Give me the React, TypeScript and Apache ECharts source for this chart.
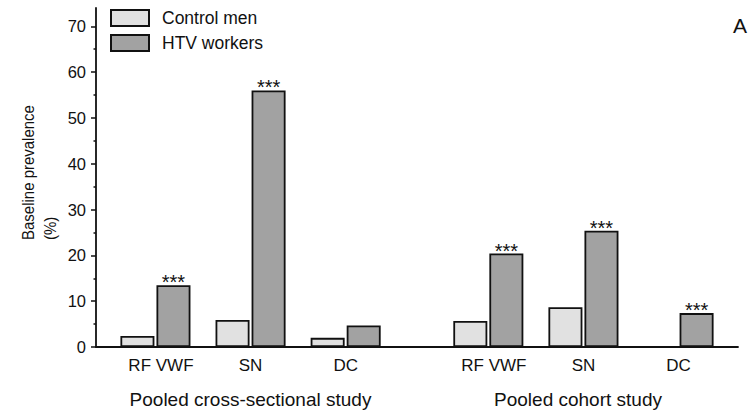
import React, { useEffect, useRef } from 'react';
import * as echarts from 'echarts';

const categories = ['RF VWF', 'SN', 'DC', 'RF VWF', 'SN', 'DC'];
const controlMen: (number | null)[] = [2.4, 5.9, 2.0, 5.7, 8.7, null];
const htvWorkers: number[] = [13.5, 56.0, 4.7, 20.4, 25.4, 7.4];
const significance = ['***', '***', '', '***', '***', '***'];
const seriesNames = ['Control men', 'HTV workers'];
const yTicks = [0, 10, 20, 30, 40, 50, 60, 70];
const yMinorTicks = [5, 15, 25, 35, 45, 55, 65];
const studies = ['Pooled cross-sectional study', 'Pooled cohort study'];
const yTitleLines = ['Baseline prevalence', '(%)'];
const panelLetter = 'A';

// layout: the x axis is split into narrow slots; each category sits on one slot
const SLOT_COUNT = 27;
const categorySlots = [2, 6, 10, 16, 20, 24];

const FONT = '"Liberation Sans", Arial, Helvetica, sans-serif';
const INK = '#111111';

export default function App() {
  const ref = useRef<HTMLDivElement>(null);

  useEffect(() => {
    if (!ref.current) return;
    const chart = echarts.init(ref.current, undefined, { renderer: 'svg' });

    const slotLabels: string[] = new Array(SLOT_COUNT).fill('');
    const controlData: any[] = new Array(SLOT_COUNT).fill(null);
    const htvData: any[] = new Array(SLOT_COUNT).fill(null);
    const sigBySlot: string[] = new Array(SLOT_COUNT).fill('');
    categorySlots.forEach((s, i) => {
      slotLabels[s] = categories[i];
      controlData[s] = controlMen[i];
      htvData[s] = { value: htvWorkers[i], label: { show: significance[i] !== '' } };
      sigBySlot[s] = significance[i];
    });

    const barBase = {
      type: 'bar' as const,
      barWidth: 34,
      barGap: '6%',
      xAxisIndex: 0,
      yAxisIndex: 0,
    };

    const textStyle = (size: number) => ({
      fontSize: size,
      fontFamily: FONT,
      fill: INK,
      textAlign: 'center',
      textVerticalAlign: 'middle',
    });

    const yTitleStyle = {
      fontSize: 15,
      fontFamily: FONT,
      fill: INK,
      textAlign: 'left',
      textVerticalAlign: 'middle',
    };

    const catLabelFont = { fontSize: 17, color: INK, fontFamily: FONT };

    chart.setOption({
      animation: false,
      textStyle: { fontFamily: FONT, color: INK },
      grid: { left: 96, right: 13, top: 8, bottom: 68, containLabel: false },
      legend: {
        data: seriesNames,
        orient: 'vertical',
        left: 110,
        top: 9,
        padding: 0,
        itemWidth: 38,
        itemHeight: 16,
        itemGap: 7,
        icon: 'rect',
        selectedMode: false,
        textStyle: { fontFamily: FONT, fontSize: 17.5, color: INK, lineHeight: 16, padding: [0, 0, 0, 8] },
      },
      xAxis: {
        type: 'category',
        data: slotLabels,
        axisLine: { show: true, lineStyle: { color: INK, width: 1.8 } },
        axisTick: { show: false },
        axisLabel: {
          interval: 0,
          ...catLabelFont,
          margin: 10,
          formatter: (v: string) => (v.indexOf(' ') >= 0 ? `{wide|${v}}` : v),
          rich: { wide: { ...catLabelFont, padding: [0, 0, 0, 11] } },
        },
        splitLine: { show: false },
      },
      yAxis: [
        {
          type: 'value',
          position: 'left',
          min: 0,
          max: 74,
          interval: 10,
          axisLine: { show: true, lineStyle: { color: INK, width: 1.8 } },
          axisTick: { show: true, length: 5, lineStyle: { color: INK, width: 1.5 }, customValues: yTicks },
          axisLabel: { fontSize: 16.5, color: INK, fontFamily: FONT, margin: 10, customValues: yTicks },
          splitLine: { show: false },
        },
        {
          type: 'value',
          position: 'left',
          offset: 0,
          min: 0,
          max: 74,
          interval: 10,
          axisLine: { show: false },
          axisTick: { show: true, length: 2.5, lineStyle: { color: INK, width: 1.5 }, customValues: yMinorTicks },
          axisLabel: { show: false },
          splitLine: { show: false },
        },
      ],
      series: [
        {
          ...barBase,
          name: seriesNames[0],
          data: controlData,
          itemStyle: { color: '#e1e1e1', borderColor: INK, borderWidth: 1.8 },
        },
        {
          ...barBase,
          name: seriesNames[1],
          data: htvData,
          itemStyle: { color: '#a2a2a2', borderColor: INK, borderWidth: 1.8 },
          label: {
            show: false,
            position: 'top',
            distance: 0,
            offset: [0, 7],
            fontSize: 20,
            fontFamily: FONT,
            color: INK,
            formatter: (p: any) => sigBySlot[p.dataIndex],
          },
        },
      ],
      graphic: [
        { type: 'text', x: 250.5, y: 399, style: { text: studies[0], ...textStyle(19) } },
        { type: 'text', x: 578, y: 399, style: { text: studies[1], ...textStyle(19) } },
        { type: 'text', x: 740, y: 25, style: { text: panelLetter, ...textStyle(21) } },
        { type: 'text', x: 28, y: 240, rotation: Math.PI / 2, scaleY: 1.12, style: { text: yTitleLines[0], ...yTitleStyle } },
        { type: 'text', x: 50, y: 240, rotation: Math.PI / 2, scaleY: 1.12, style: { text: yTitleLines[1], ...yTitleStyle } },
      ],
    });

    return () => chart.dispose();
  }, []);

  return (
    <div
      ref={ref}
      style={{ position: 'fixed', left: 0, top: 0, width: 751, height: 415, background: '#ffffff' }}
    />
  );
}
